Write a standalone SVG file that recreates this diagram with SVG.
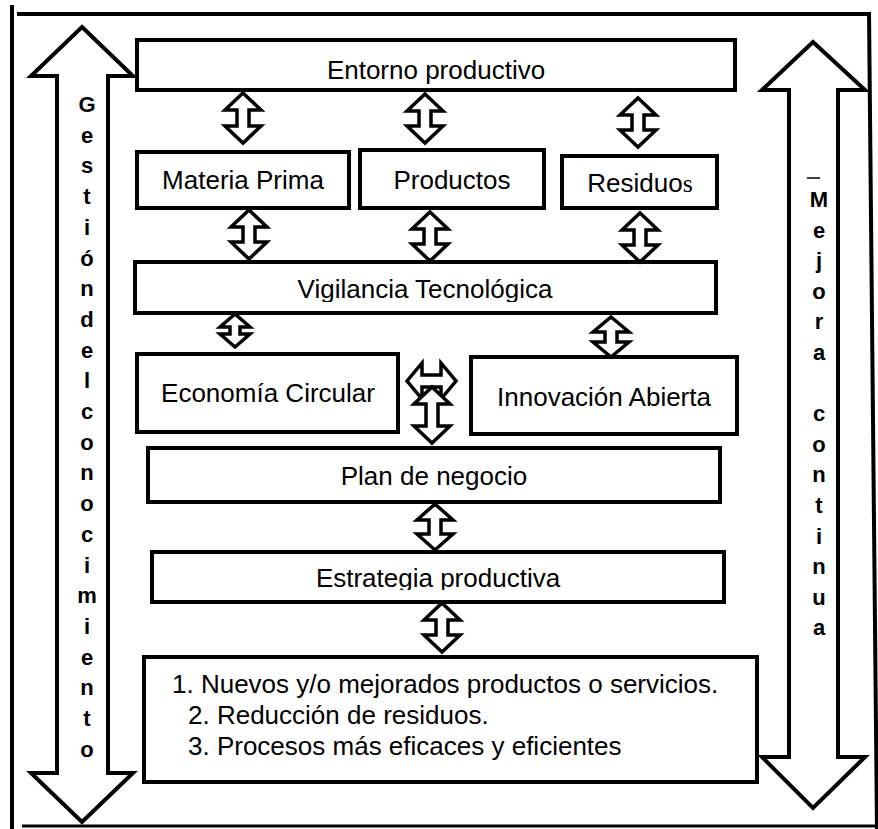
<svg xmlns="http://www.w3.org/2000/svg" width="878" height="829" viewBox="0 0 878 829">
<style>
.box{fill:#fff;stroke:#000;stroke-width:4}
.lbl{font-family:"Liberation Sans",Arial,sans-serif;font-size:26px;fill:#000;text-anchor:middle}
.lst{font-family:"Liberation Sans",Arial,sans-serif;font-size:26px;fill:#000}
.dbl{fill:#fff;stroke:#000;stroke-width:3.5;stroke-linejoin:miter}
.big{fill:#fff;stroke:#000;stroke-width:4;stroke-linejoin:miter}
.vt{font-family:"Liberation Sans",Arial,sans-serif;font-size:22px;font-weight:bold;fill:#000;text-anchor:middle}
.frame{stroke:#000;fill:none}
</style>
<defs>
<clipPath id="clipVig"><rect x="130" y="255" width="600" height="47"/></clipPath>
<clipPath id="clipEst"><rect x="150" y="545" width="580" height="45"/></clipPath>
</defs>
<rect width="878" height="829" fill="#fff"/>
<g id="frame">
<line class="frame" x1="12" y1="5" x2="12" y2="829" stroke-width="4"/>
<line class="frame" x1="17" y1="14" x2="869" y2="14" stroke-width="4"/>
<line class="frame" x1="869" y1="12" x2="877" y2="829" stroke-width="4"/>
<line class="frame" x1="22" y1="826" x2="878" y2="826" stroke-width="3"/>
</g>
<g id="gestion">
<path class="big" d="M82,27 L133,76 L108,76 L108,773 L133,773 L82,822 L31,773 L57,773 L57,76 L31,76 Z"/>
<text class="vt" x="87" y="112"><tspan x="87">G</tspan><tspan x="87" dy="30.7">e</tspan><tspan x="87" dy="30.7">s</tspan><tspan x="87" dy="30.7">t</tspan><tspan x="87" dy="30.7">i</tspan><tspan x="87" dy="30.7">ó</tspan><tspan x="87" dy="30.7">n</tspan><tspan x="87" dy="30.7">d</tspan><tspan x="87" dy="30.7">e</tspan><tspan x="87" dy="30.7">l</tspan><tspan x="87" dy="30.7">c</tspan><tspan x="87" dy="30.7">o</tspan><tspan x="87" dy="30.7">n</tspan><tspan x="87" dy="30.7">o</tspan><tspan x="87" dy="30.7">c</tspan><tspan x="87" dy="30.7">i</tspan><tspan x="87" dy="30.7">m</tspan><tspan x="87" dy="30.7">i</tspan><tspan x="87" dy="30.7">e</tspan><tspan x="87" dy="30.7">n</tspan><tspan x="87" dy="30.7">t</tspan><tspan x="87" dy="30.7">o</tspan></text>
</g>
<g id="mejora">
<path class="big" d="M813,42 L865,90 L838,90 L838,757 L865,757 L813,808 L762,757 L789,757 L789,90 L762,90 Z"/>
<line x1="807" y1="178" x2="820" y2="178" stroke="#000" stroke-width="1.5"/>
<text class="vt" x="819" y="207"><tspan x="819">M</tspan><tspan x="819" dy="30.6">e</tspan><tspan x="819" dy="30.6">j</tspan><tspan x="819" dy="30.6">o</tspan><tspan x="819" dy="30.6">r</tspan><tspan x="819" dy="30.6">a</tspan><tspan x="819" dy="61.2">c</tspan><tspan x="819" dy="30.6">o</tspan><tspan x="819" dy="30.6">n</tspan><tspan x="819" dy="30.6">t</tspan><tspan x="819" dy="30.6">i</tspan><tspan x="819" dy="30.6">n</tspan><tspan x="819" dy="30.6">u</tspan><tspan x="819" dy="30.6">a</tspan></text>
</g>
<g id="entorno">
<rect class="box" x="137" y="40" width="598" height="50"/>
<text class="lbl" x="436" y="79">Entorno productivo</text>
</g>
<g id="materia">
<rect class="box" x="137" y="152" width="212" height="56"/>
<text class="lbl" x="243" y="189">Materia Prima</text>
</g>
<g id="productos">
<rect class="box" x="360" y="150" width="184" height="58"/>
<text class="lbl" x="452" y="189">Productos</text>
</g>
<g id="residuos">
<rect class="box" x="562" y="156" width="155" height="52"/>
<text class="lbl" x="640" y="192">Residuo<tspan style="font-family:'Liberation Serif','Times New Roman',serif">s</tspan></text>
</g>
<g id="vigilancia">
<rect class="box" x="135" y="262" width="581" height="51"/>
<text class="lbl" x="425" y="298" clip-path="url(#clipVig)">Vigilancia Tecnológica</text>
</g>
<g id="economia">
<rect class="box" x="137" y="354" width="261" height="78"/>
<text class="lbl" x="268" y="402">Economía Circular</text>
</g>
<g id="innovacion">
<rect class="box" x="471" y="357" width="266" height="77"/>
<text class="lbl" x="604" y="406">Innovación Abierta</text>
</g>
<g id="plan">
<rect class="box" x="148" y="448" width="572" height="54"/>
<text class="lbl" x="434" y="485">Plan de negocio</text>
</g>
<g id="estrategia">
<rect class="box" x="152" y="552" width="572" height="50"/>
<text class="lbl" x="438" y="587" clip-path="url(#clipEst)">Estrategia productiva</text>
</g>
<g id="resultados">
<rect class="box" x="144" y="657" width="613" height="125"/>
<text class="lst" x="172" y="693">1. Nuevos y/o mejorados productos o servicios.</text>
<text class="lst" x="188" y="724">2. Reducción de residuos.</text>
<text class="lst" x="188" y="755">3. Procesos más eficaces y eficientes</text>
</g>
<g id="connectors">
<path class="dbl" d="M243,93 L261,110 L249,110 L249,126 L261,126 L243,143 L225,126 L237,126 L237,110 L225,110 Z"/>
<path class="dbl" d="M425,94 L443,111 L431,111 L431,126 L443,126 L425,143 L407,126 L419,126 L419,111 L407,111 Z"/>
<path class="dbl" d="M638,98 L656,115 L644,115 L644,130 L656,130 L638,147 L620,130 L632,130 L632,115 L620,115 Z"/>
<path class="dbl" d="M249,210 L267,227 L255,227 L255,242 L267,242 L249,259 L231,242 L243,242 L243,227 L231,227 Z"/>
<path class="dbl" d="M430,212 L448,229 L436,229 L436,244 L448,244 L430,261 L412,244 L424,244 L424,229 L412,229 Z"/>
<path class="dbl" d="M640,213 L658,230 L646,230 L646,245 L658,245 L640,262 L622,245 L634,245 L634,230 L622,230 Z"/>
<path class="dbl" d="M235,314 L250,327 L240,327 L240,334 L250,334 L235,347 L220,334 L230,334 L230,327 L220,327 Z"/>
<path class="dbl" d="M611,317 L629,332 L617,332 L617,342 L629,342 L611,357 L593,342 L605,342 L605,332 L593,332 Z"/>
<path class="dbl" d="M407,381 L422,363 L422,375 L441,375 L441,363 L456,381 L441,399 L441,387 L422,387 L422,399 Z"/>
<path class="dbl" d="M432,387 L450,404 L438,404 L438,426 L450,426 L432,443 L414,426 L426,426 L426,404 L414,404 Z"/>
<path class="dbl" d="M435,504 L453,520 L441,520 L441,534 L453,534 L435,550 L417,534 L429,534 L429,520 L417,520 Z"/>
<path class="dbl" d="M442,603 L460,620 L448,620 L448,635 L460,635 L442,652 L424,635 L436,635 L436,620 L424,620 Z"/>
</g>
</svg>
